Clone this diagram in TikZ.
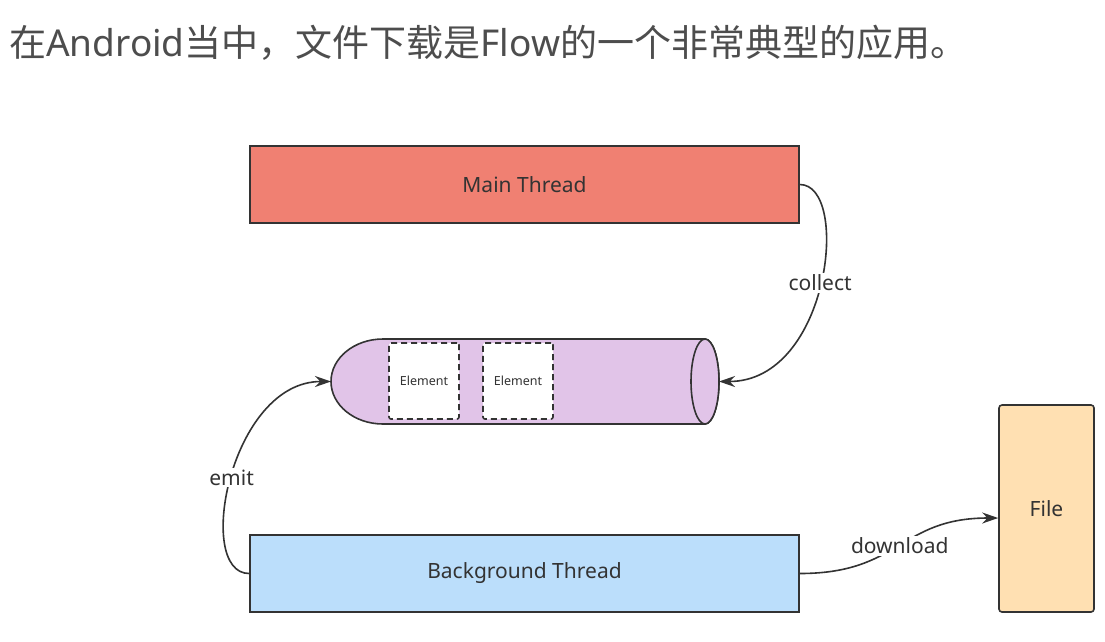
\documentclass[tikz,border=0pt]{standalone}
\usepackage{fontspec}
\setmainfont{Noto Sans}
\newfontfamily\cjk{Noto Sans CJK SC}
\newfontfamily\latn{Noto Sans}
\usetikzlibrary{arrows.meta}
\definecolor{mainred}{RGB}{240,128,114}
\definecolor{bgblue}{RGB}{187,222,251}
\definecolor{fileorange}{RGB}{255,224,178}
\definecolor{pipepurple}{RGB}{225,196,232}
\definecolor{linegray}{RGB}{51,51,51}
\definecolor{titlegray}{RGB}{77,77,77}
\tikzset{
  threadbox/.style={draw=linegray, line width=1.6pt, minimum width=549pt, minimum height=77pt, inner sep=0pt, text=linegray, font=\fontsize{21}{25}\selectfont},
  filebox/.style={draw=linegray, line width=1.6pt, fill=fileorange, rounded corners=3pt, minimum width=95pt, minimum height=207pt, inner sep=0pt, text=linegray, font=\fontsize{21}{25}\selectfont},
  elembox/.style={draw=linegray, line width=1.6pt, fill=white, dash pattern=on 6pt off 4pt, rounded corners=2pt, minimum width=70pt, minimum height=76pt, inner sep=0pt, text=linegray, font=\fontsize{12.5}{15}\selectfont},
  conn/.style={draw=linegray, line width=1.6pt, -{Stealth[length=16pt,width=11pt]}},
  connlabel/.style={fill=white, text=linegray, inner sep=2pt, font=\fontsize{21}{25}\selectfont},
}
\begin{document}
\begin{tikzpicture}[x=1pt,y=-1pt]
\useasboundingbox[fill=white] (0,0) rectangle (1105,641);
% title
\node[anchor=west, inner sep=0pt, text=titlegray, font=\cjk\fontsize{37}{42}\selectfont] (title) at (9,43) {在{\latn Android}当中，文件下载是{\latn Flow}的一个非常典型的应用。};
% boxes
\node[threadbox, fill=mainred] (main) at (524.5,184.5) {Main Thread};
\node[threadbox, fill=bgblue] (bg) at (524.5,573.5) {Background Thread};
\node[filebox] (file) at (1046.5,508.5) {File};
% pipe (cylinder)
\path[draw=linegray, line width=1.6pt, fill=pipepurple]
  (383,339) -- (705,339)
  arc[start angle=270, end angle=450, x radius=14, y radius=42.5]
  -- (383,424)
  arc[start angle=90, end angle=270, x radius=52, y radius=42.5]
  -- cycle;
\draw[linegray, line width=1.6pt, fill=pipepurple] (705,381.5) ellipse[x radius=14, y radius=42.5];
\coordinate (pipeL) at (331,381.5);
\coordinate (pipeR) at (719,381.5);
\node[elembox] (e1) at (424,381) {Element};
\node[elembox] (e2) at (518,381) {Element};
% connectors
\draw[conn] (main.east) .. controls +(51,0) and +(111,0) .. (pipeR)
  node[connlabel, pos=0.5] {collect};
\draw[conn] (bg.west) .. controls +(-55,0) and +(-101,0) .. (pipeL)
  node[connlabel, pos=0.5] {emit};
\draw[conn] (bg.east) .. controls +(101,0) and +(-99,0) .. ([yshift=-9.5pt]file.west)
  node[connlabel, pos=0.5] {download};
\end{tikzpicture}
\end{document}
